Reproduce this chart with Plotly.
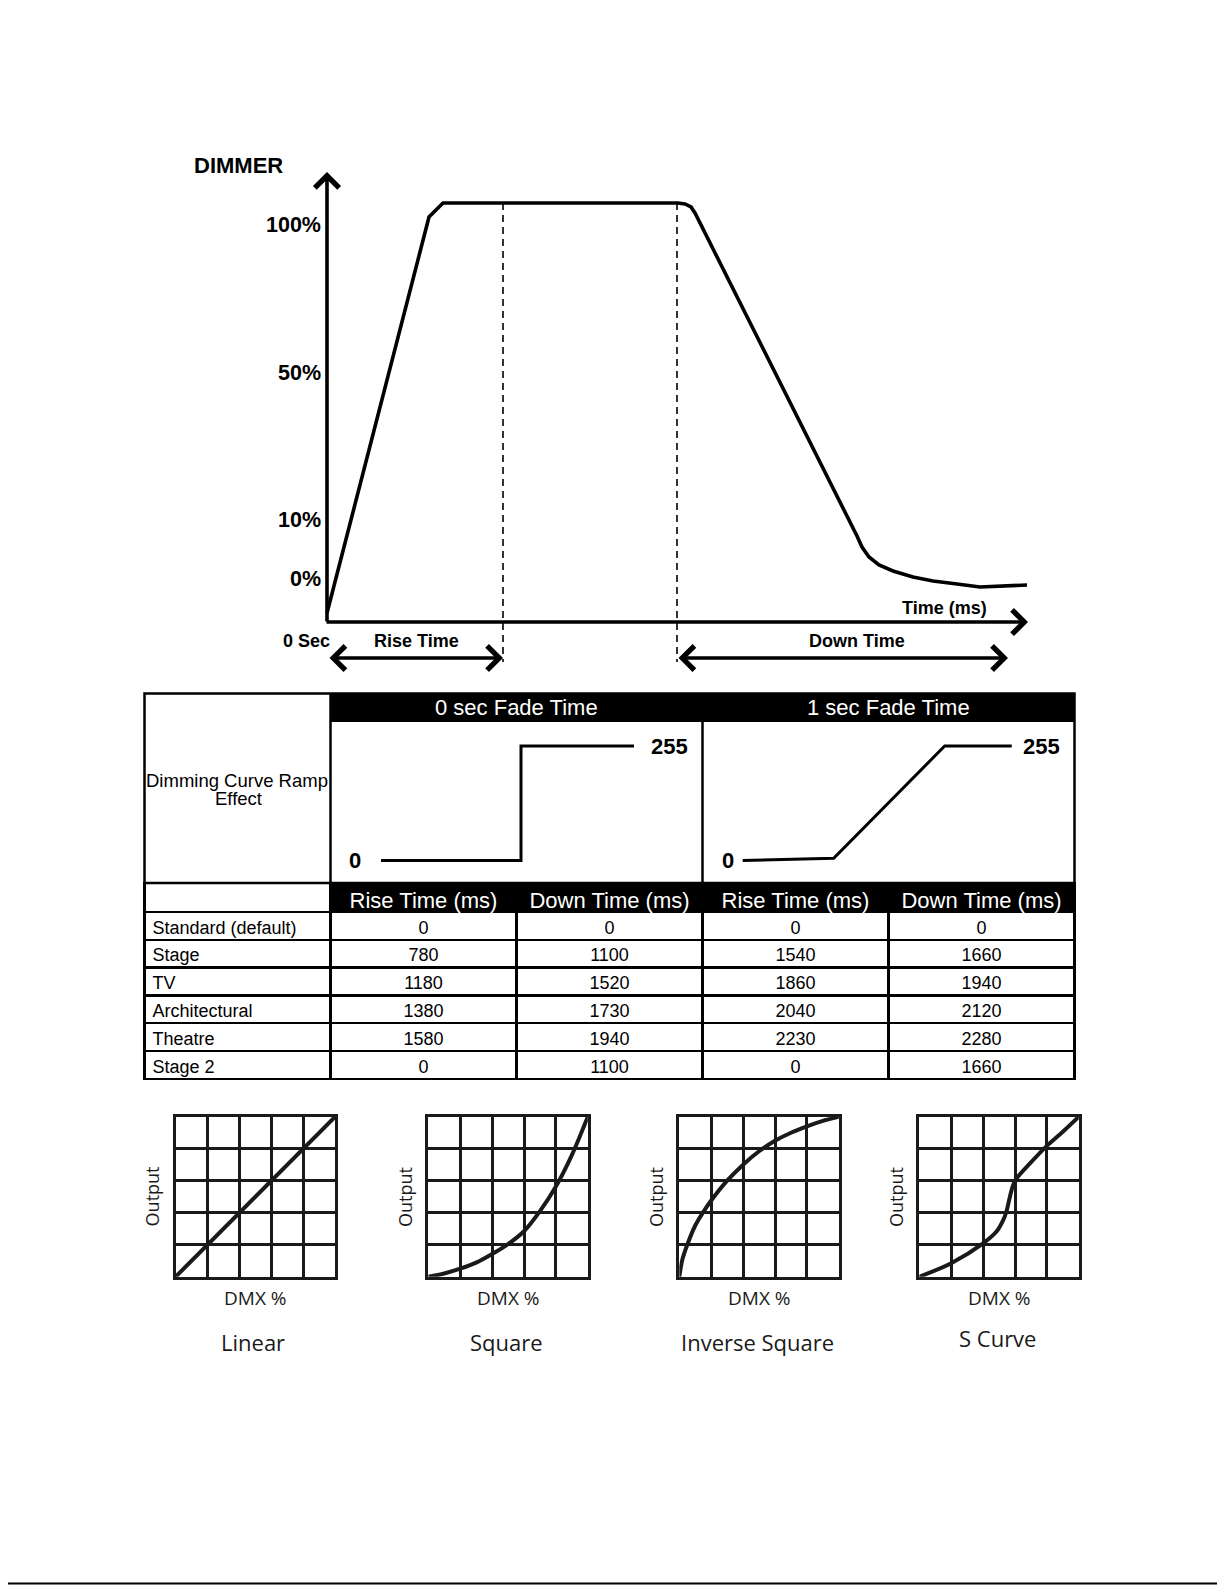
import plotly.graph_objects as go

PAGE_W, PAGE_H = 1225, 1585
OFF = 8  # default body margin of the written page
W, H = PAGE_W - OFF, PAGE_H - OFF


def X(px):
    return (px - OFF) / W


def Y(py):
    return 1 - (py - OFF) / H


# ---------------- data ----------------
# Dimmer response diagram (schematic units)
dimmer_time = [0, 102, 116, 351, 358, 364, 368, 525, 530, 535, 542, 552, 566, 586, 606, 630, 653, 700]
dimmer_level = [9, 405, 419, 419, 418, 415, 409, 97, 86, 75, 65, 57, 51, 45, 41, 38, 35, 37]
rise_end_time = 176
down_start_time = 350
time_axis_end = 701
level_axis_end = 450
arrow_level = -36
level_ticks = [397, 249, 102, 43]
level_tick_text = ["100%", "50%", "10%", "0%"]

# Ramp effect mini charts (time units, DMX value)
fade_titles = ["0 sec Fade Time", "1 sec Fade Time"]
fade0_time = [0, 140, 140, 253]
fade0_dmx = [0, 0, 255, 255]
fade1_time = [0, 91, 202, 269]
fade1_dmx = [0, 5, 255, 255]

# Table
modes = ["Standard (default)", "Stage", "TV", "Architectural", "Theatre", "Stage 2"]
rise_0s = [0, 780, 1180, 1380, 1580, 0]
down_0s = [0, 1100, 1520, 1730, 1940, 1100]
rise_1s = [0, 1540, 1860, 2040, 2230, 0]
down_1s = [0, 1660, 1940, 2120, 2280, 1660]
col_headers = ["", "Rise Time (ms)", "Down Time (ms)", "Rise Time (ms)", "Down Time (ms)"]

# Dimming curves (grid units 0..5)
curve_names = ["Linear", "Square", "Inverse Square", "S Curve"]
linear_x = [0, 5]
linear_y = [0, 5]
square_x = [0, 0.5, 1, 1.5, 2, 2.5, 3, 3.5, 4, 4.5, 5]
square_y = [0, 0.1, 0.25, 0.44, 0.71, 1.02, 1.42, 2.05, 2.82, 3.8, 5]
inverse_x = [0, 0.1, 0.25, 0.5, 0.77, 1, 1.5, 2, 2.5, 3, 3.5, 4, 4.5, 5]
inverse_y = [0, 0.55, 1.0, 1.6, 2.05, 2.38, 3.0, 3.5, 3.92, 4.25, 4.5, 4.7, 4.87, 5]
scurve_x = [0, 1, 2, 2.42, 2.63, 2.73, 2.84, 2.94, 3.05, 3.47, 3.99, 4.5, 5]
scurve_y = [0, 0.42, 1.04, 1.41, 1.77, 2.03, 2.5, 2.86, 3.07, 3.54, 4.08, 4.53, 5]

# ---------------- figure ----------------
fig = go.Figure()
BOLD = "Liberation Sans"
annotations = []
shapes = []

# main dimmer diagram
fig.add_trace(go.Scatter(x=dimmer_time, y=dimmer_level, mode="lines",
                         line=dict(color="black", width=3.6), xaxis="x", yaxis="y",
                         hoverinfo="skip", showlegend=False))
for t in (rise_end_time, down_start_time):
    fig.add_trace(go.Scatter(x=[t, t], y=[419, arrow_level - 4], mode="lines",
                             line=dict(color="black", width=1.6, dash="7px,5px"),
                             xaxis="x", yaxis="y", hoverinfo="skip", showlegend=False))

arrow_style = dict(xref="x", yref="y", axref="x", ayref="y", showarrow=True, arrowhead=4,
                   arrowsize=1.3, arrowwidth=3.6, arrowcolor="black", text="")
# axis arrows
annotations.append(dict(x=0, y=level_axis_end, ax=0, ay=-1, **arrow_style))
annotations.append(dict(x=time_axis_end, y=0, ax=-2, ay=0, **arrow_style))
# span arrows
annotations.append(dict(x=rise_end_time, y=arrow_level, ax=1, ay=arrow_level,
                        startarrowhead=4, arrowside="end+start", startarrowsize=1.3, **arrow_style))
annotations.append(dict(x=681, y=arrow_level, ax=down_start_time, ay=arrow_level,
                        startarrowhead=4, arrowside="end+start", startarrowsize=1.3, **arrow_style))

for val, txt in zip(level_ticks, level_tick_text):
    annotations.append(dict(x=X(323), y=val, xref="paper", yref="y", text=txt, showarrow=False,
                            xanchor="right", yanchor="middle",
                            font=dict(family=BOLD, size=21.5, color="black", weight="bold")))


def label(px, py, txt, size, bold=True, family=BOLD, color="black", xanchor="center", angle=0):
    annotations.append(dict(x=X(px), y=Y(py), xref="paper", yref="paper", text=txt, showarrow=False,
                            xanchor=xanchor, yanchor="middle", textangle=angle,
                            font=dict(family=family, size=size, color=color,
                                      weight="bold" if bold else "normal")))


label(238, 165, "DIMMER", 22)
label(944, 608, "Time (ms)", 18)
label(306, 641, "0 Sec", 18)
label(416, 641, "Rise Time", 18)
label(857, 641, "Down Time", 18)

# ---------------- table upper part ----------------
L, C1, C3, R = 144.5, 330.5, 702.5, 1074.5
T, BAND, CHART = 693.5, 722, 883
shapes.append(dict(type="rect", xref="paper", yref="paper", x0=X(C1), x1=X(R), y0=Y(BAND), y1=Y(T),
                   fillcolor="black", line=dict(width=0), layer="below"))
shapes.append(dict(type="rect", xref="paper", yref="paper", x0=X(L), x1=X(R), y0=Y(CHART), y1=Y(T),
                   fillcolor="rgba(0,0,0,0)", line=dict(color="black", width=2.5)))
for xx in (C1, C3):
    shapes.append(dict(type="line", xref="paper", yref="paper", x0=X(xx), x1=X(xx), y0=Y(CHART), y1=Y(T),
                       line=dict(color="black", width=2.5)))
label((C1 + C3) / 2, 708, fade_titles[0], 22, bold=False, color="white")
label((C3 + R) / 2, 708, fade_titles[1], 22, bold=False, color="white")
label(237, 780, "Dimming Curve Ramp", 18.5, bold=False)
label(238, 798, "Effect", 18.5, bold=False)

# mini charts
for i, (tx, ty) in enumerate([(fade0_time, fade0_dmx), (fade1_time, fade1_dmx)]):
    ax_id = i + 2
    fig.add_trace(go.Scatter(x=tx, y=ty, mode="lines", line=dict(color="black", width=3),
                             xaxis=f"x{ax_id}", yaxis=f"y{ax_id}", hoverinfo="skip", showlegend=False))
zero_pos = [-26, -15]
top_pos = [288, 299]
for i in range(2):
    ax_id = i + 2
    annotations.append(dict(x=zero_pos[i], y=fade0_dmx[0], xref=f"x{ax_id}", yref=f"y{ax_id}", text="0",
                            showarrow=False, font=dict(family=BOLD, size=22, color="black", weight="bold")))
    annotations.append(dict(x=top_pos[i], y=fade0_dmx[-1], xref=f"x{ax_id}", yref=f"y{ax_id}", text="255",
                            showarrow=False, font=dict(family=BOLD, size=22, color="black", weight="bold")))

# ---------------- table lower part ----------------
fig.add_trace(go.Table(
    domain=dict(x=[X(L), X(R)], y=[Y(1080), Y(CHART)]),
    columnwidth=[1, 1, 1, 1, 1],
    header=dict(values=col_headers, height=29,
                fill=dict(color=["white", "black", "black", "black", "black"]),
                line=dict(color="black", width=2.5),
                align=["left", "center", "center", "center", "center"],
                font=dict(family=BOLD, size=22, color=["black", "white", "white", "white", "white"])),
    cells=dict(values=[modes, rise_0s, down_0s, rise_1s, down_1s], height=27.8,
               fill=dict(color="white"),
               line=dict(color="black", width=2.5),
               align=["left", "center", "center", "center", "center"],
               font=dict(family=BOLD, size=18, color="black")),
))

# ---------------- dimming curves ----------------
grid_left = [175.7, 428.3, 679.3, 919.3]
GW = 159.5
GT, GB = 1116.7, 1276.7
curves = [(linear_x, linear_y), (square_x, square_y), (inverse_x, inverse_y), (scurve_x, scurve_y)]
title_y = [1342, 1342, 1342, 1338]
for i, ((cx, cy), name) in enumerate(zip(curves, curve_names)):
    ax_id = i + 4
    fig.add_trace(go.Scatter(x=cx, y=cy, mode="lines",
                             line=dict(color="#1a1a1a", width=4, shape="spline", smoothing=0.9),
                             xaxis=f"x{ax_id}", yaxis=f"y{ax_id}", hoverinfo="skip", showlegend=False))
    gl = grid_left[i]
    cxp = gl + GW / 2
    label(gl - 24, (GT + GB) / 2, "Output", 18, bold=False, family="Open Sans", color="#1a1a1a", angle=-90)
    label(cxp, 1298, "DMX %", 19, bold=False, family="Open Sans", color="#1a1a1a")
    label(cxp - 2, title_y[i], name, 22, bold=False, family="Open Sans", color="#1a1a1a")

# bottom rule
shapes.append(dict(type="line", xref="paper", yref="paper", x0=0, x1=1, y0=Y(1583.5), y1=Y(1583.5),
                   line=dict(color="black", width=2)))

hidden = dict(visible=False, fixedrange=True)
layout = dict(
    width=W, height=H, margin=dict(l=0, r=0, t=0, b=0),
    paper_bgcolor="white", plot_bgcolor="white", showlegend=False,
    xaxis=dict(domain=[X(322), X(1032)], range=[-5, 705], anchor="y", **hidden),
    yaxis=dict(domain=[Y(682), Y(167)], range=[-60, 455], anchor="x", **hidden),
    xaxis2=dict(domain=[X(331), X(702)], range=[-50, 321], anchor="y2", **hidden),
    yaxis2=dict(domain=[Y(882), Y(724)], range=[-47.9, 304], anchor="x2", **hidden),
    xaxis3=dict(domain=[X(703), X(1075)], range=[-39.7, 332.3], anchor="y3", **hidden),
    yaxis3=dict(domain=[Y(882), Y(724)], range=[-47.9, 304], anchor="x3", **hidden),
    annotations=annotations, shapes=shapes,
)
for i in range(4):
    ax_id = i + 4
    gl = grid_left[i]
    grid_axis = dict(range=[0, 5], dtick=1, tick0=0, showgrid=True, gridcolor="#1a1a1a", gridwidth=2.5,
                     showline=True, mirror=True, linecolor="#1a1a1a", linewidth=3, zeroline=False,
                     showticklabels=False, ticks="", fixedrange=True)
    layout[f"xaxis{ax_id}"] = dict(domain=[X(gl), X(gl + GW)], anchor=f"y{ax_id}", **grid_axis)
    layout[f"yaxis{ax_id}"] = dict(domain=[Y(GB), Y(GT)], anchor=f"x{ax_id}", **grid_axis)

fig.update_layout(**layout)
fig.write_html("out.html")
